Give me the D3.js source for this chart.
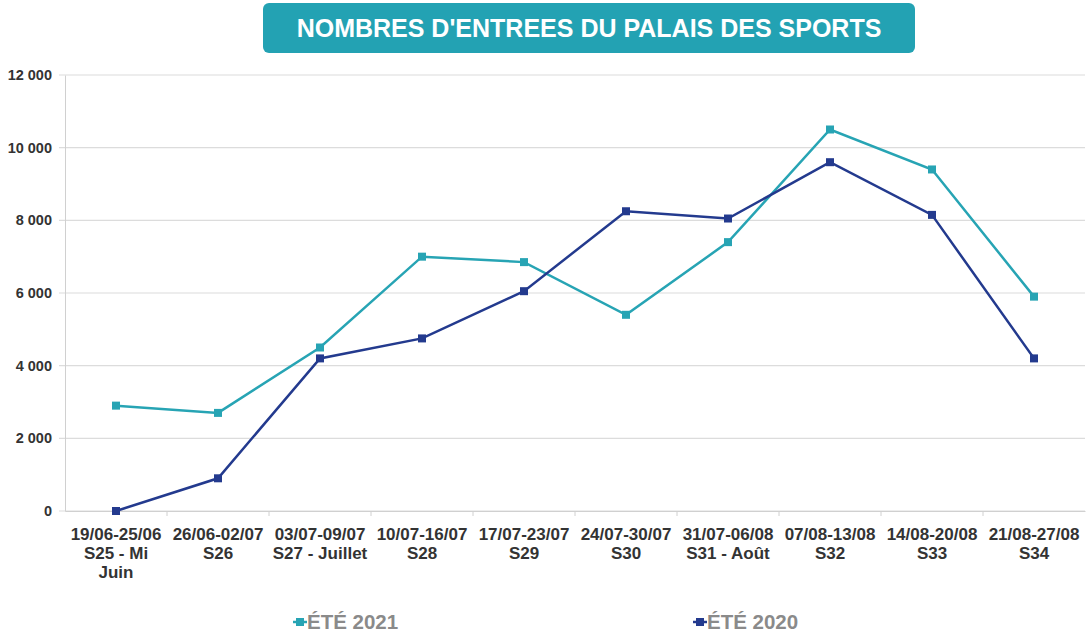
<!DOCTYPE html>
<html>
<head>
<meta charset="utf-8">
<script src="https://cdn.jsdelivr.net/npm/d3@7"></script>
<style>
  body { margin: 0; background: #fff; }
  svg { font-family: "Liberation Sans", Arial, sans-serif; }
</style>
</head>
<body>
<div id="chart"></div>
<script>
// Data
var weeks = ["19/06-25/06", "26/06-02/07", "03/07-09/07", "10/07-16/07", "17/07-23/07",
  "24/07-30/07", "31/07-06/08", "07/08-13/08", "14/08-20/08", "21/08-27/08"];
var weekNames = [["S25 - Mi", "Juin"], ["S26"], ["S27 - Juillet"], ["S28"], ["S29"],
  ["S30"], ["S31 - Août"], ["S32"], ["S33"], ["S34"]];
var ete2021 = [2900, 2700, 4500, 7000, 6850, 5400, 7400, 10500, 9400, 5900];
var ete2020 = [0, 900, 4200, 4750, 6050, 8250, 8050, 9600, 8150, 4200];
var yTicks = [0, 2000, 4000, 6000, 8000, 10000, 12000];

var svgWidth = 1088;
var svgHeight = 636;
var margin = { top: 75, right: 3, bottom: 125, left: 65 };
var width = svgWidth - margin.left - margin.right;
var height = svgHeight - margin.top - margin.bottom;

var svg = d3.select("#chart").append("svg")
  .attr("width", svgWidth)
  .attr("height", svgHeight);

// title box
svg.append("rect")
  .attr("x", 263).attr("y", 3)
  .attr("width", 652).attr("height", 50)
  .attr("rx", 6)
  .attr("fill", "#23a2b3");
svg.append("text")
  .attr("x", 589).attr("y", 37)
  .attr("text-anchor", "middle")
  .attr("fill", "#fff")
  .style("font-weight", "bold")
  .style("font-size", "25px")
  .text("NOMBRES D'ENTREES DU PALAIS DES SPORTS");

var chartGroup = svg.append("g")
  .attr("transform", `translate(${margin.left}, ${margin.top})`);

var x = d3.scaleBand().domain(weeks).range([0, width]);
var y = d3.scaleLinear().domain([0, 12000]).range([height, 0]);

var fmt = function(d) { return d3.format(",")(d).replace(/,/g, " "); };

// gridlines
chartGroup.append("g")
  .selectAll("line")
  .data(yTicks)
  .enter()
  .append("line")
  .attr("x1", -6).attr("x2", width)
  .attr("y1", d => y(d)).attr("y2", d => y(d))
  .attr("stroke", "#dcdcdc")
  .attr("stroke-width", 1.2);

// y axis
var leftAxis = d3.axisLeft(y).tickValues(yTicks).tickFormat(fmt).tickSize(0).tickPadding(13);
var yAxis = chartGroup.append("g").call(leftAxis);
yAxis.select(".domain").attr("stroke", "#d0d0d0");
yAxis.selectAll("text")
  .attr("fill", "#333")
  .style("font-weight", "bold")
  .style("font-size", "14.5px");

// x axis
var bottomAxis = d3.axisBottom(x).tickSize(0).tickFormat("");
var xAxis = chartGroup.append("g")
  .attr("transform", `translate(0, ${height})`)
  .call(bottomAxis);
xAxis.select(".domain").attr("stroke", "#d0d0d0");
xAxis.selectAll(".tick").append("text")
  .attr("fill", "#333")
  .attr("text-anchor", "middle")
  .style("font-weight", "bold")
  .style("font-size", "17px")
  .each(function(d, i) {
    var t = d3.select(this);
    var lines = [d].concat(weekNames[i]);
    lines.forEach(function(s, j) {
      t.append("tspan").attr("x", 0).attr("y", 29 + j * 19).text(s);
    });
  });

// separators between categories
chartGroup.append("g")
  .selectAll("line")
  .data(weeks.slice(1))
  .enter()
  .append("line")
  .attr("x1", d => x(d)).attr("x2", d => x(d))
  .attr("y1", height).attr("y2", height + 5)
  .attr("stroke", "#d0d0d0");

var series = [
  { name: "ÉTÉ 2021", values: ete2021, color: "#27a4b4" },
  { name: "ÉTÉ 2020", values: ete2020, color: "#233a8e" }
];

var line = d3.line()
  .x((d, i) => x(weeks[i]) + x.bandwidth() / 2)
  .y(d => y(d));

series.forEach(function(s) {
  chartGroup.append("path")
    .datum(s.values)
    .attr("fill", "none")
    .attr("stroke", s.color)
    .attr("stroke-width", 2.5)
    .attr("d", line);

  chartGroup.selectAll(null)
    .data(s.values)
    .enter()
    .append("rect")
    .attr("x", (d, i) => x(weeks[i]) + x.bandwidth() / 2 - 4)
    .attr("y", d => y(d) - 4)
    .attr("width", 8)
    .attr("height", 8)
    .attr("fill", s.color);
});

// legend
var legendX = [293, 693];
series.forEach(function(s, i) {
  var g = svg.append("g").attr("transform", `translate(${legendX[i]}, 622)`);
  g.append("line")
    .attr("x1", 0).attr("x2", 14)
    .attr("stroke", s.color).attr("stroke-width", 2.5);
  g.append("rect")
    .attr("x", 3).attr("y", -4).attr("width", 8).attr("height", 8)
    .attr("fill", s.color);
  g.append("text")
    .attr("x", 14).attr("y", 7)
    .attr("fill", "#8a8a8a")
    .style("font-weight", "bold")
    .style("font-size", "20.5px")
    .text(s.name);
});
</script>
</body>
</html>
